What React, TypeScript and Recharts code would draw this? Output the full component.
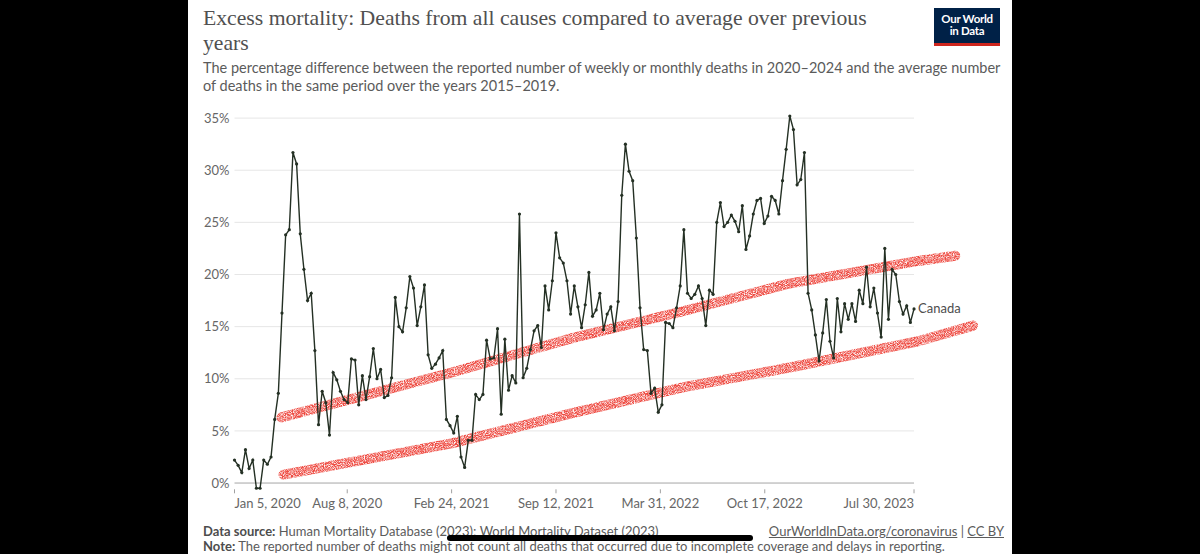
import React from 'react';
import { LineChart, Line, XAxis, YAxis, ReferenceLine } from 'recharts';

// Weekly excess mortality for Canada (%), one value per week starting Jan 5, 2020
const START_DATE = '2020-01-05';
const canadaExcess: number[] = [
  2.2, 1.7, 1.0, 3.2, 1.4, 2.2, -0.5, -0.5, 2.2, 1.8, 2.5, 6.1, 8.6, 16.3, 23.8, 24.3,
  31.7, 30.6, 23.9, 20.5, 17.5, 18.2, 12.7, 5.6, 8.8, 7.7, 4.6, 10.6, 9.9, 8.8, 8.0,
  7.7, 11.9, 11.8, 7.5, 10.3, 8.0, 10.2, 12.9, 10.0, 10.9, 8.2, 8.4, 10.1, 17.8, 15.0,
  14.5, 16.8, 19.8, 18.7, 15.1, 16.9, 19.0, 12.3, 11.0, 11.4, 12.0, 12.7, 6.1, 5.5, 4.8, 6.4,
  2.5, 1.5, 4.1, 4.1, 8.5, 8.0, 8.5, 13.7, 11.9, 12.0, 14.8, 6.6, 13.8, 8.9, 10.3, 9.6,
  25.8, 10.1, 11.0, 12.8, 14.6, 15.1, 13.0, 18.9, 16.6, 19.4, 24.0, 21.6, 21.1, 19.4, 16.2,
  18.9, 16.9, 14.9, 17.1, 20.2, 16.0, 16.6, 18.2, 14.7, 16.2, 16.9, 14.6, 17.4, 27.6, 32.5,
  29.9, 29.0, 23.5, 16.8, 12.8, 12.7, 8.6, 9.1, 6.8, 7.5, 15.4, 15.3, 14.9, 16.8, 18.9, 24.3,
  18.2, 17.7, 18.1, 18.9, 17.7, 15.1, 18.5, 18.1, 25.0, 26.9, 24.6, 25.0, 25.7, 25.1, 24.1,
  26.6, 22.4, 23.7, 25.8, 27.1, 27.3, 24.9, 25.6, 27.5, 27.1, 25.8, 29.0, 32.0, 35.2, 33.9,
  28.6, 29.1, 31.7, 18.2, 16.6, 14.2, 11.7, 14.4, 17.6, 13.6, 12.0, 17.7, 14.5, 17.2, 15.7,
  17.2, 15.5, 18.5, 17.2, 20.7, 16.9, 18.7, 16.3, 14.0, 22.5, 15.7, 20.5, 20.0, 17.4, 16.2,
  17.0, 15.4, 16.7,
];

// Axis ticks
const xTickDates = ['2020-01-05', '2020-08-08', '2021-02-24', '2021-09-12', '2022-03-31', '2022-10-17', '2023-07-30'];
const yTicks = [0, 5, 10, 15, 20, 25, 30, 35];
const MONTHS = ['Jan', 'Feb', 'Mar', 'Apr', 'May', 'Jun', 'Jul', 'Aug', 'Sep', 'Oct', 'Nov', 'Dec'];

// Hand-drawn trend channel: [date, percent] vertices
const upperBand: [string, number][] = [
  ['2020-04-04', 6.3], ['2021-02-24', 10.6], ['2021-10-13', 13.9], ['2022-05-15', 16.5],
  ['2022-11-30', 19.1], ['2023-08-07', 21.3], ['2023-10-17', 21.8],
];
const lowerBand: [string, number][] = [
  ['2020-04-08', 0.8], ['2021-02-24', 3.8], ['2021-10-13', 6.7], ['2022-05-15', 9.2],
  ['2022-12-16', 11.2], ['2023-08-07', 13.6], ['2023-11-20', 15.1],
];

const DAY_MS = 86400000;
const dayOf = (iso: string) => Math.round((Date.parse(iso) - Date.parse(START_DATE)) / DAY_MS);
const fmtDay = (d: number) => {
  const dt = new Date(Date.parse(START_DATE) + d * DAY_MS);
  return `${MONTHS[dt.getUTCMonth()]} ${dt.getUTCDate()}, ${dt.getUTCFullYear()}`;
};

const seriesData = canadaExcess.map((v, i) => ({ day: i * 7, v }));
const xTicks = xTickDates.map(dayOf);
const upperData = upperBand.map(([d, v]) => ({ day: dayOf(d), v }));
const lowerData = lowerBand.map(([d, v]) => ({ day: dayOf(d), v }));
const LAST_DAY = xTicks[xTicks.length - 1];

const LINE_COLOR = '#243024';
const BAND_COLOR = '#ee4b42';
const SANS = "Lato, 'Noto Sans', sans-serif";

const DateTick = (props: any) => {
  const { x, y, payload, index } = props;
  const anchor = index === 0 ? 'start' : index === xTicks.length - 1 ? 'end' : 'middle';
  return (
    <text x={x} y={y} dy="0.71em" textAnchor={anchor} fill="#666" fontSize={13} fontFamily={SANS}>
      {fmtDay(payload.value)}
    </text>
  );
};

const seriesLabel = (props: any) => {
  const { x, y, index } = props;
  if (index !== canadaExcess.length - 1) return null;
  return (
    <text x={x + 4} y={y} dy="0.35em" fill="#4d4d4d" fontSize={13} fontFamily={SANS}>
      Canada
    </text>
  );
};

export default function App() {
  return (
    <div style={{ position: 'absolute', left: 0, top: 0, width: 1200, height: 554, background: '#000', overflow: 'hidden' }}>
      <div style={{ position: 'absolute', left: 188, top: 0, width: 824, height: 554, background: '#fff' }} />

      {/* Title */}
      <div style={{ position: 'absolute', left: 203, top: 6, fontFamily: "'Liberation Serif', 'DejaVu Serif', serif", fontSize: 21.7, lineHeight: '25px', color: '#505050', whiteSpace: 'nowrap' }}>
        <div>Excess mortality: Deaths from all causes compared to average over previous</div>
        <div>years</div>
      </div>

      {/* Subtitle */}
      <div style={{ position: 'absolute', left: 203, top: 59, fontFamily: SANS, fontSize: 14.5, lineHeight: '18px', color: '#5b5b5b', whiteSpace: 'nowrap' }}>
        <div>The percentage difference between the reported number of weekly or monthly deaths in 2020–2024 and the average number</div>
        <div>of deaths in the same period over the years 2015–2019.</div>
      </div>

      {/* Logo */}
      <div style={{ position: 'absolute', left: 934, top: 8, width: 66, height: 38, background: '#002147', boxSizing: 'border-box', borderBottom: '3px solid #ce261e', color: '#fff', fontFamily: SANS, fontSize: 11.5, fontWeight: 700, lineHeight: '12px', textAlign: 'center', paddingTop: 5, letterSpacing: -0.3 }}>
        <div>Our World</div>
        <div>in Data</div>
      </div>

      {/* Chart */}
      <div style={{ position: 'absolute', left: 0, top: 0 }}>
        <LineChart width={1200} height={554} data={seriesData} margin={{ top: 116, right: 215, bottom: 34.7, left: 194.5 }}>
          <defs>
            <filter id="grain" x="-5%" y="-20%" width="110%" height="140%">
              <feTurbulence type="fractalNoise" baseFrequency="1.1" numOctaves="2" seed="11" result="noise" />
              <feColorMatrix in="noise" type="matrix" values="0 0 0 0 0  0 0 0 0 0  0 0 0 0 0  2.2 0 0 0 -0.45" result="mask" />
              <feComposite in="SourceGraphic" in2="mask" operator="in" />
            </filter>
          </defs>
          <XAxis
            dataKey="day"
            type="number"
            domain={[0, 1438]}
            ticks={xTicks}
            tick={<DateTick />}
            axisLine={false}
            tickLine={{ stroke: '#a0a0a0' }}
            tickSize={4}
            tickMargin={5}
            height={30}
            interval={0}
          />
          <YAxis
            type="number"
            domain={[-0.6, 35]}
            ticks={yTicks}
            tickFormatter={(v: number) => `${v}%`}
            axisLine={false}
            tickLine={false}
            tickSize={0}
            tickMargin={5}
            width={40}
            tick={{ fill: '#666', fontSize: 13, fontFamily: SANS }}
            interval={0}
          />
          {yTicks.slice(1).map((t) => (
            <ReferenceLine key={t} segment={[{ x: 0, y: t }, { x: LAST_DAY, y: t }]} stroke="#e6e6e6" strokeWidth={1} ifOverflow="visible" />
          ))}
          <ReferenceLine segment={[{ x: 0, y: 0 }, { x: LAST_DAY, y: 0 }]} stroke="#a6a6a6" strokeWidth={1} ifOverflow="visible" />

          <Line data={upperData} dataKey="v" stroke={BAND_COLOR} strokeWidth={10} strokeLinecap="round" strokeLinejoin="round" dot={false} activeDot={false} isAnimationActive={false} filter="url(#grain)" />
          <Line data={lowerData} dataKey="v" stroke={BAND_COLOR} strokeWidth={10} strokeLinecap="round" strokeLinejoin="round" dot={false} activeDot={false} isAnimationActive={false} filter="url(#grain)" />

          <Line
            dataKey="v"
            stroke={LINE_COLOR}
            strokeWidth={1.4}
            dot={{ r: 1.6, fill: LINE_COLOR, stroke: 'none' }}
            activeDot={false}
            isAnimationActive={false}
            label={seriesLabel}
          />
        </LineChart>
      </div>

      {/* Footer */}
      <div style={{ position: 'absolute', left: 203, top: 524, fontFamily: SANS, fontSize: 13, lineHeight: '14px', color: '#5b5b5b', whiteSpace: 'nowrap' }}>
        <b style={{ color: '#4d4d4d' }}>Data source:</b> Human Mortality Database (2023); World Mortality Dataset (2023)
      </div>
      <div style={{ position: 'absolute', right: 1200 - 1004, top: 524, fontFamily: SANS, fontSize: 13, lineHeight: '14px', color: '#5b5b5b', whiteSpace: 'nowrap' }}>
        <span style={{ textDecoration: 'underline' }}>OurWorldInData.org/coronavirus</span> | <span style={{ textDecoration: 'underline' }}>CC BY</span>
      </div>
      <div style={{ position: 'absolute', left: 203, top: 539, fontFamily: SANS, fontSize: 13, lineHeight: '14px', color: '#5b5b5b', whiteSpace: 'nowrap' }}>
        <b style={{ color: '#4d4d4d' }}>Note:</b> The reported number of deaths might not count all deaths that occurred due to incomplete coverage and delays in reporting.
      </div>
      {/* marker stroke over the source line */}
      <div style={{ position: 'absolute', left: 447, top: 535, width: 306, height: 6, borderRadius: 4, background: '#000' }} />
    </div>
  );
}
